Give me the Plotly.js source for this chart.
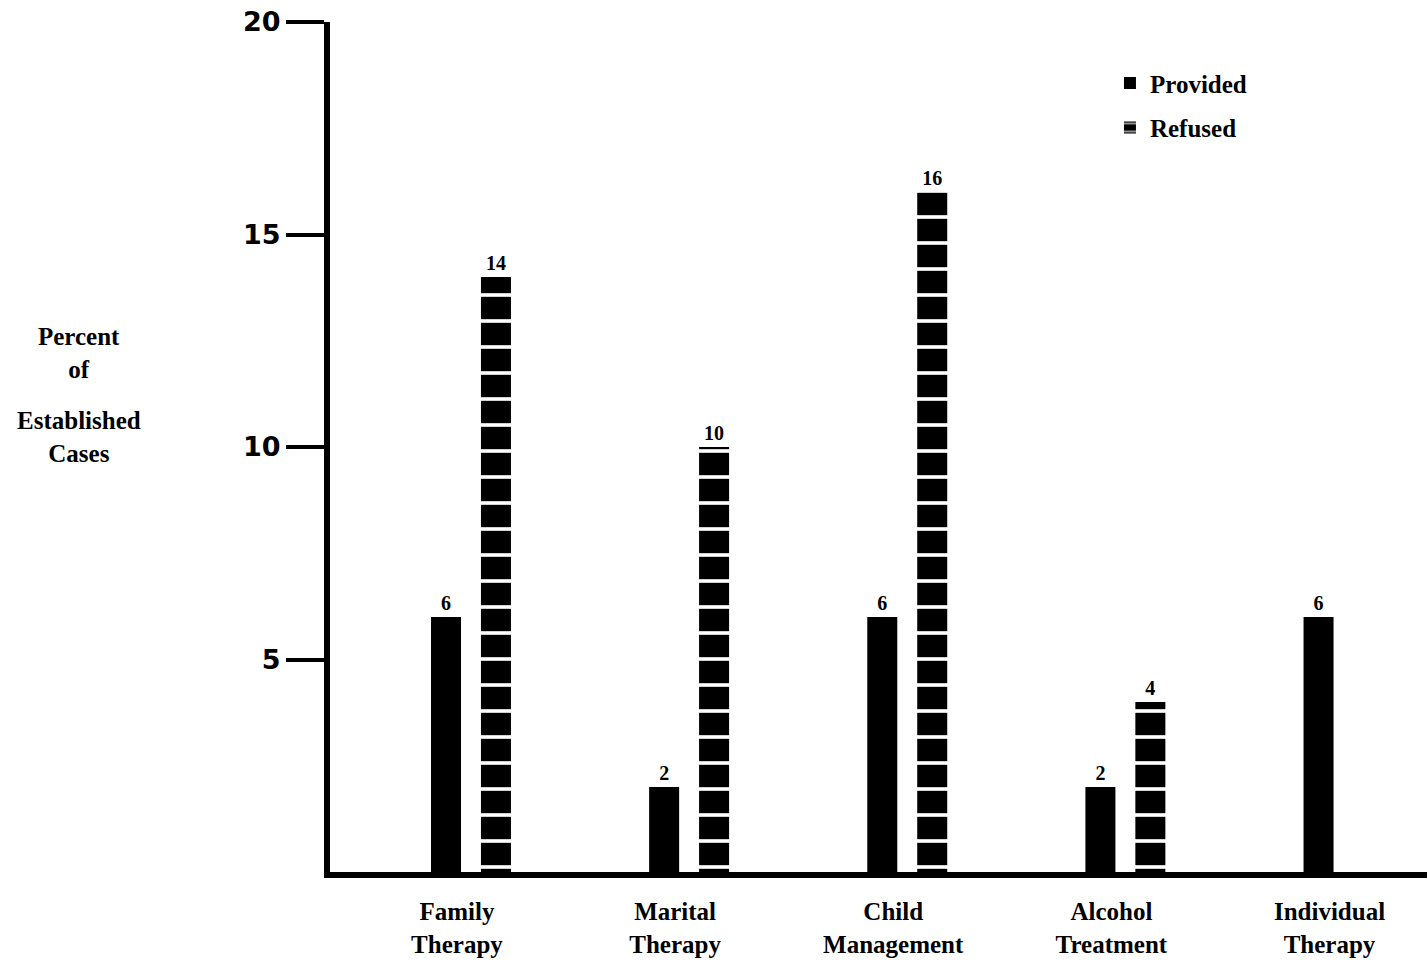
<!DOCTYPE html>
<html>
<head>
<meta charset="utf-8">
<script src="https://cdn.plot.ly/plotly-3.0.1.min.js"></script>
<style>html,body{margin:0;padding:0;background:#fff;}#chart{width:1427px;height:973px;}</style>
</head>
<body>
<div id="chart"></div>
<script>
const categories = ["Family<br>Therapy", "Marital<br>Therapy", "Child<br>Management", "Alcohol<br>Treatment", "Individual<br>Therapy"];
const provided = [6, 2, 6, 2, 6];
const refused = [14, 10, 16, 4, null];
const yTickVals = [5, 10, 15, 20];
const yTickText = ["5", "10", "15", "20"];
const yTitleLines = ["Percent", "of", "Established", "Cases"];

const serif = "Liberation Serif, DejaVu Serif, serif";

const traces = [
  {
    type: "bar", name: "Provided", legendgroup: "p", x: categories, y: provided,
    text: provided.map(v => v == null ? "" : String(v)),
    textposition: "outside", cliponaxis: false,
    textfont: {family: serif, size: 20, color: "#000", weight: "bold"},
    marker: {color: "#000", line: {width: 0}},
    width: 0.1376, offset: -0.119
  },
  {
    type: "bar", name: "Refused", legendgroup: "r", x: categories, y: refused,
    text: refused.map(v => v == null ? "" : String(v)),
    textposition: "outside", cliponaxis: false,
    textfont: {family: serif, size: 20, color: "#000", weight: "bold"},
    marker: {color: "#000", line: {width: 0},
      pattern: {shape: "-", fgcolor: "#fff", bgcolor: "#000", size: 26, solidity: 0.14}},
    width: 0.1376, offset: 0.110
  }
];

const layout = {
  width: 1427, height: 973,
  margin: {l: 330, r: 0, t: 22, b: 101},
  paper_bgcolor: "#fff", plot_bgcolor: "#fff",
  barmode: "overlay",
  showlegend: true,
  legend: {x: 0.711, y: 0.955, xanchor: "left", yanchor: "top",
    font: {family: serif, size: 25, color: "#000", weight: "bold"},
    bgcolor: "rgba(0,0,0,0)", tracegroupgap: 9},
  xaxis: {
    type: "category", range: [-0.582, 4.447], fixedrange: true,
    showline: true, linecolor: "#000", linewidth: 6,
    showgrid: false, zeroline: false, ticks: "", ticklabelstandoff: 12,
    tickfont: {family: serif, size: 25, color: "#000", weight: "bold"}
  },
  yaxis: {
    range: [0, 20], showline: true, linecolor: "#000", linewidth: 6,
    showgrid: false, zeroline: false,
    tickvals: yTickVals, ticktext: yTickText,
    ticks: "outside", ticklen: 38, tickwidth: 4, tickcolor: "#000",
    tickfont: {family: "DejaVu Sans, Liberation Sans, sans-serif", size: 27, color: "#000", weight: "bold"}
  },
  annotations: [
    {xref: "paper", yref: "paper", x: -0.229, y: (872 - 353) / 850, xanchor: "center", yanchor: "middle",
     text: yTitleLines.slice(0, 2).join("<br>"), showarrow: false,
     font: {family: serif, size: 25, color: "#000", weight: "bold"}},
    {xref: "paper", yref: "paper", x: -0.229, y: (872 - 437) / 850, xanchor: "center", yanchor: "middle",
     text: yTitleLines.slice(2).join("<br>"), showarrow: false,
     font: {family: serif, size: 25, color: "#000", weight: "bold"}}
  ]
};

Plotly.newPlot("chart", traces, layout, {displayModeBar: false, staticPlot: true});
</script>
</body>
</html>
